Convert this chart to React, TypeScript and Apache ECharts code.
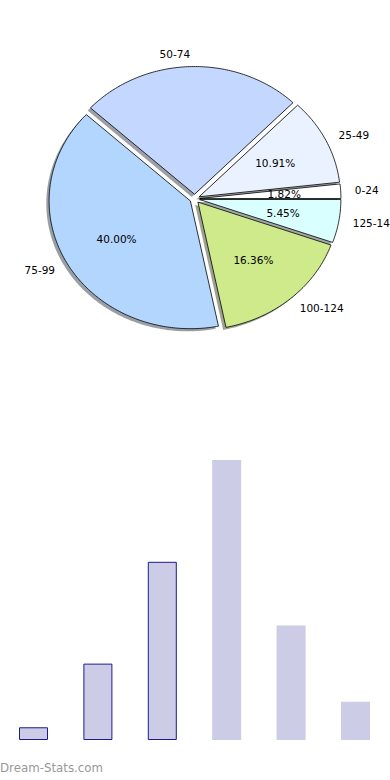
import React, { useEffect, useRef } from "react";
import * as echarts from "echarts";

// ---- data ----
const categories: string[] = ["0-24", "25-49", "50-74", "75-99", "100-124", "125-149"];
const counts: number[] = [1, 6, 14, 22, 9, 3];
const sliceColors: string[] = ["#FFFFFF", "#EAF1FF", "#C4D8FF", "#B3D6FF", "#CFEA8A", "#D9FFFF"];
const showPct: boolean[] = [true, true, false, true, true, true];
const barOutlined: boolean[] = [true, true, true, false, false, false];

// ---- layout (pie is elliptical, like the original) ----
const CX = 194.7;
const CY = 198.75;
const RX = 141.3;
const RY = 127.75;
const EXPLODE = 0.035;
const SHADOW_DX = -2.8;
const SHADOW_DY = 2.6;
const FONT = '10.5px "DejaVu Sans", sans-serif';

const total = counts.reduce((a, b) => a + b, 0);

function sliceAngles(i: number): [number, number] {
  let cum = 0;
  for (let k = 0; k < i; k++) cum += counts[k];
  const a1 = (360 * cum) / total;
  const a2 = (360 * (cum + counts[i])) / total;
  return [a1, a2];
}

function slicePoints(i: number, dx: number, dy: number): number[][] {
  const [a1, a2] = sliceAngles(i);
  const mid = ((a1 + a2) / 2) * (Math.PI / 180);
  const ox = CX + EXPLODE * RX * Math.cos(mid) + dx;
  const oy = CY - EXPLODE * RY * Math.sin(mid) + dy;
  const pts: number[][] = [[ox, oy]];
  const steps = Math.max(4, Math.ceil((a2 - a1) / 0.8));
  for (let s = 0; s <= steps; s++) {
    const t = ((a1 + ((a2 - a1) * s) / steps) * Math.PI) / 180;
    pts.push([ox + RX * Math.cos(t), oy - RY * Math.sin(t)]);
  }
  return pts;
}

function shadowColor(hex: string): string {
  const r = parseInt(hex.slice(1, 3), 16);
  const g = parseInt(hex.slice(3, 5), 16);
  const b = parseInt(hex.slice(5, 7), 16);
  return `rgba(${Math.round(r * 0.3)},${Math.round(g * 0.3)},${Math.round(b * 0.3)},0.5)`;
}

export default function App() {
  const ref = useRef<HTMLDivElement>(null);

  useEffect(() => {
    if (!ref.current) return;
    const chart = echarts.init(ref.current, null, { renderer: "svg" });

    const option: any = {
      animation: false,
      backgroundColor: "#ffffff",
      grid: { left: 1.3, right: 2.3, top: 460, bottom: 40, containLabel: false },
      xAxis: { type: "category", data: categories, show: false },
      yAxis: { type: "value", min: 0, max: 22, show: false },
      graphic: [
        {
          type: "text",
          left: 0,
          top: 762,
          style: {
            text: "Dream-Stats.com",
            font: '11.8px "DejaVu Sans", sans-serif',
            fill: "#999999",
          },
        },
      ],
      series: [
        {
          type: "custom",
          name: "shadow",
          coordinateSystem: "none",
          silent: true,
          z: 1,
          data: counts,
          renderItem: (params: any) => {
            const i = params.dataIndex;
            return {
              type: "polygon",
              shape: { points: slicePoints(i, SHADOW_DX, SHADOW_DY) },
              style: { fill: shadowColor(sliceColors[i]), stroke: "none" },
            };
          },
        },
        {
          type: "custom",
          name: "wedges",
          coordinateSystem: "none",
          silent: true,
          z: 2,
          data: counts,
          renderItem: (params: any) => {
            const i = params.dataIndex;
            return {
              type: "polygon",
              shape: { points: slicePoints(i, 0, 0) },
              style: { fill: sliceColors[i], stroke: "#000000", lineWidth: 0.8 },
            };
          },
        },
        {
          type: "custom",
          name: "labels",
          coordinateSystem: "none",
          silent: true,
          z: 3,
          data: counts,
          renderItem: (params: any) => {
            const i = params.dataIndex;
            const [a1, a2] = sliceAngles(i);
            const mid = ((a1 + a2) / 2) * (Math.PI / 180);
            const c = Math.cos(mid);
            const s = Math.sin(mid);
            const lx = CX + (1.1 + EXPLODE) * RX * c;
            const ly = CY - (1.1 + EXPLODE) * RY * s;
            const px = CX + (0.6 + EXPLODE) * RX * c;
            const py = CY - (0.6 + EXPLODE) * RY * s;
            const children: any[] = [
              {
                type: "text",
                style: {
                  text: categories[i],
                  x: lx,
                  y: ly,
                  font: FONT,
                  fill: "#000000",
                  textAlign: c > 0 ? "left" : "right",
                  textVerticalAlign: "middle",
                },
              },
            ];
            if (showPct[i]) {
              children.push({
                type: "text",
                style: {
                  text: ((100 * counts[i]) / total).toFixed(2) + "%",
                  x: px,
                  y: py,
                  font: FONT,
                  fill: "#000000",
                  textAlign: "center",
                  textVerticalAlign: "middle",
                },
              });
            }
            return { type: "group", children };
          },
        },
        {
          type: "bar",
          name: "counts",
          silent: true,
          barWidth: 29,
          itemStyle: { color: "#CCCCE6" },
          data: counts.map((v, i) => ({
            value: v,
            itemStyle: barOutlined[i]
              ? { color: "#CCCCE6", borderColor: "#1C1C8E", borderWidth: 1 }
              : { color: "#CCCCE6", borderWidth: 0 },
          })),
        },
      ],
    };

    chart.setOption(option);
    return () => chart.dispose();
  }, []);

  return (
    <div
      ref={ref}
      style={{ position: "absolute", left: 0, top: 0, width: 390, height: 780, background: "#fff" }}
    />
  );
}
